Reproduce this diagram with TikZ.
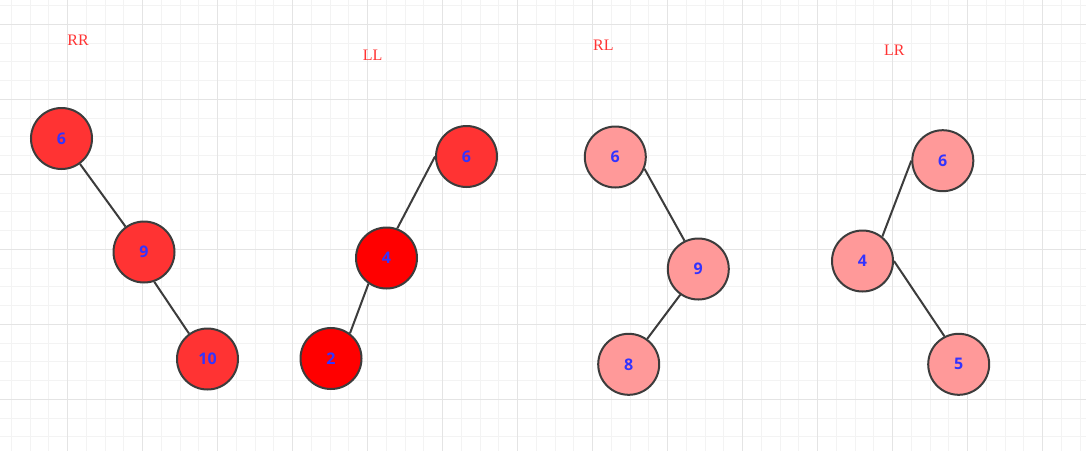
\documentclass[tikz,border=0pt]{standalone}
\usepackage{fontspec}
\newfontfamily\valfont{Open Sans}
\newfontfamily\casefont{Liberation Serif}
\definecolor{gridminor}{HTML}{F3F3F3}
\definecolor{gridmajor}{HTML}{E4E4E4}
\definecolor{edgegray}{HTML}{3C3C3C}
\definecolor{redA}{HTML}{FF3333}
\definecolor{redB}{HTML}{FF0000}
\definecolor{pinkA}{HTML}{FF9999}
\definecolor{valblue}{HTML}{3333FF}
\tikzset{
	treenode/.style={draw=edgegray, circle, line width=2pt, minimum size=61pt, inner sep=0pt,
		text=valblue, font=\valfont\bfseries\fontsize{16}{19}\selectfont},
	caselabel/.style={text=redA, font=\casefont\fontsize{16}{19}\selectfont},
	treeedge/.style={draw=edgegray, line width=2pt}
}
\begin{document}
\begin{tikzpicture}[x=1pt, y=-1pt]
		\useasboundingbox (0,0) rectangle (1086,451);
		\fill[white] (0,0) rectangle (1086,451);
		% grid
		\foreach \i in {0,...,57} {
			\draw[gridminor, line width=1pt] ({11.45+18.75*\i},0) -- ({11.45+18.75*\i},451);
		}
		\foreach \i in {0,...,24} {
			\draw[gridminor, line width=1pt] (0,{5.6+18.75*\i}) -- (1086,{5.6+18.75*\i});
		}
		\foreach \i in {0,...,14} {
			\draw[gridmajor, line width=1pt] ({67.7+75*\i},0) -- ({67.7+75*\i},451);
		}
		\foreach \i in {0,...,5} {
			\draw[gridmajor, line width=1pt] (0,{24.3+75*\i}) -- (1086,{24.3+75*\i});
		}
		
		% RR
		\node[caselabel] (LabelRR) at (78,40) {RR};
		\node[treenode, fill=redA] (RR6) at (61.5,138.5) {6};
		\node[treenode, fill=redA] (RR9) at (144,252) {9};
		\node[treenode, fill=redA] (RR10) at (207.5,359) {10};
		\draw[treeedge] (RR6) -- (RR9);
		\draw[treeedge] (RR9.-71) -- (RR10.126);
		
		% LL
		\node[caselabel] (LabelLL) at (372.7,55) {LL};
		\node[treenode, fill=redA] (LL6) at (466.5,156.5) {6};
		\node[treenode, fill=redB] (LL4) at (386.5,258) {4};
		\node[treenode, fill=redB] (LL2) at (331,358.5) {2};
		\draw[treeedge] (LL4.70) -- (LL6.west);
		\draw[treeedge] (LL2.53) -- (LL4.235);
		
		% RL
		\node[caselabel] (LabelRL) at (603.3,45) {RL};
		\node[treenode, fill=pinkA] (RL6) at (615.3,157) {6};
		\node[treenode, fill=pinkA] (RL9) at (698.3,269) {9};
		\node[treenode, fill=pinkA] (RL8) at (628.7,364.3) {8};
		\draw[treeedge] (RL6.-22) -- (RL9.116);
		\draw[treeedge] (RL9.235) -- (RL8.54);
		
		% LR
		\node[caselabel] (LabelLR) at (894.3,50) {LR};
		\node[treenode, fill=pinkA] (LR6) at (942.8,160.7) {6};
		\node[treenode, fill=pinkA] (LR4) at (862.5,261) {4};
		\node[treenode, fill=pinkA] (LR5) at (958.7,364.3) {5};
		\draw[treeedge] (LR4.51) -- (LR6.west);
		\draw[treeedge] (LR4.east) -- (LR5.117);
		
	\end{tikzpicture}
\end{document}
